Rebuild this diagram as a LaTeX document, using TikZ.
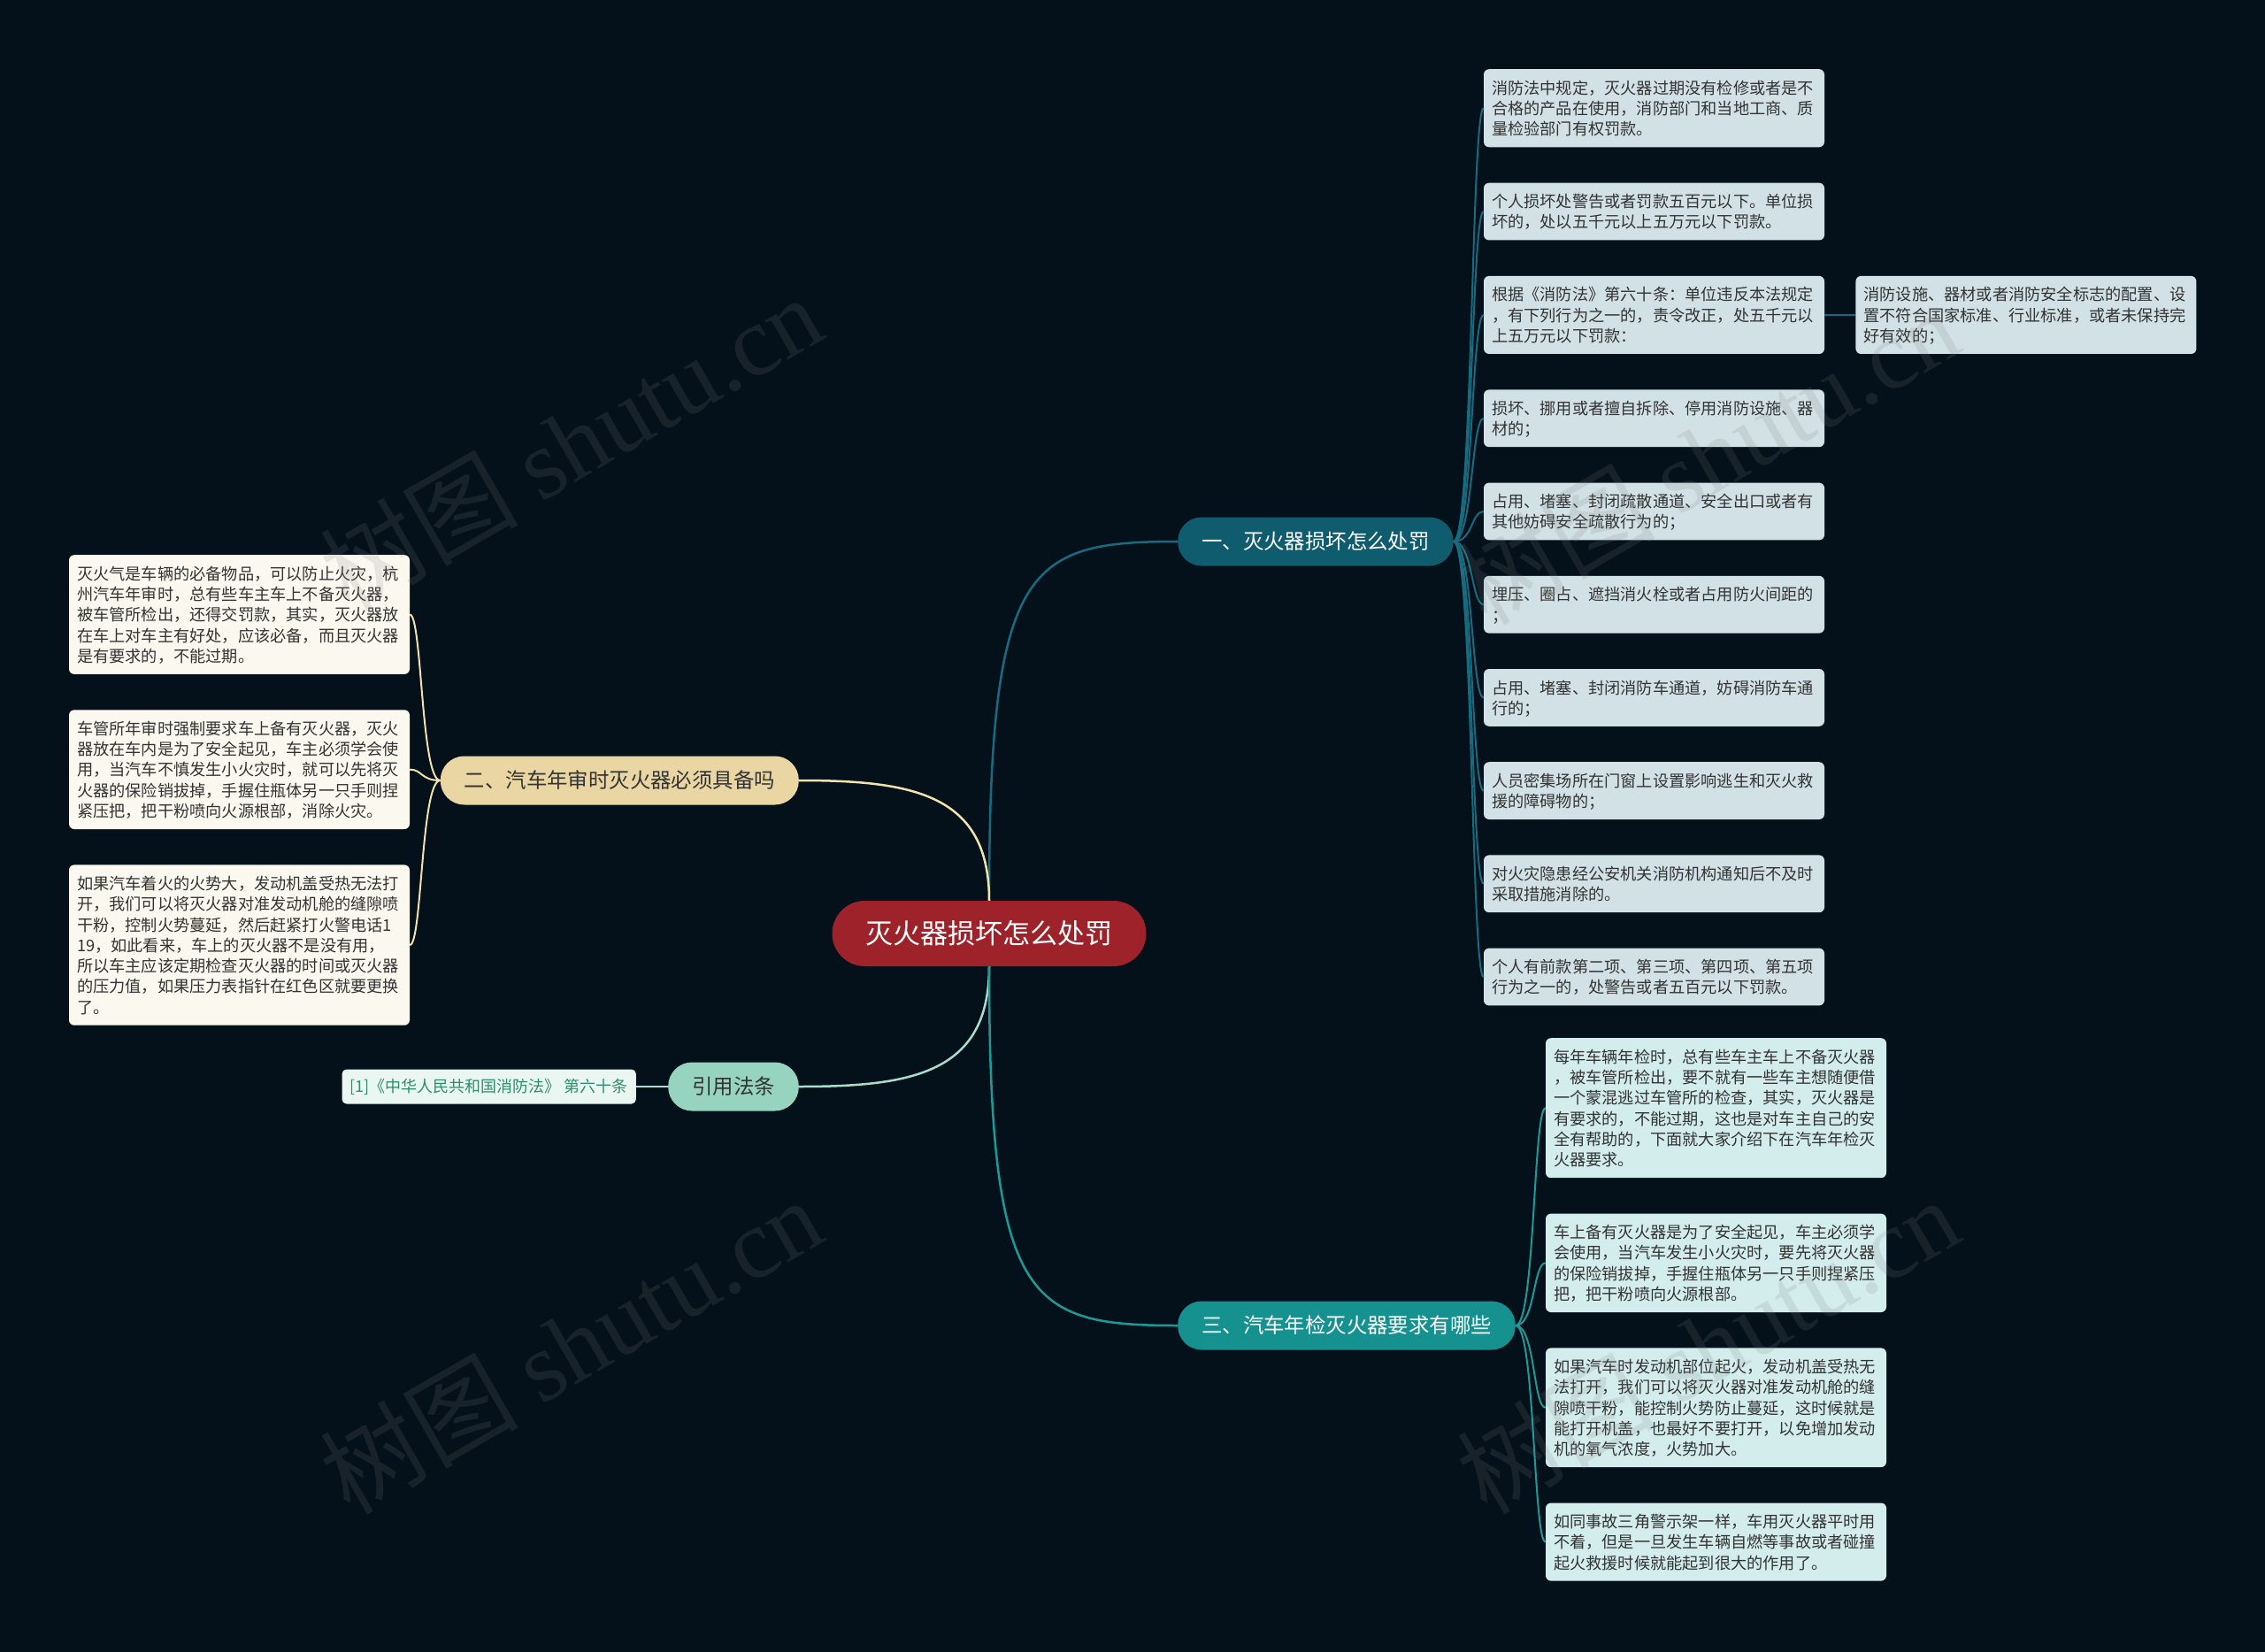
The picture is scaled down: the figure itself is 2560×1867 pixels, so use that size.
\documentclass[tikz,border=0pt]{standalone}
\usepackage{fontspec}
\setmainfont{Noto Sans CJK SC}
\newfontfamily\wmserif{Liberation Serif}
\usetikzlibrary{positioning}

\definecolor{bgdark}{HTML}{04111A}
\definecolor{rootred}{HTML}{9E2229}
\definecolor{penfill}{HTML}{0E5C6E}
\definecolor{penline}{HTML}{186B7E}
\definecolor{penleaf}{HTML}{D2E1E5}
\definecolor{needfill}{HTML}{E9D6A3}
\definecolor{needline}{HTML}{F1E2AE}
\definecolor{needleaf}{HTML}{FBF8EF}
\definecolor{reqfill}{HTML}{15918F}
\definecolor{reqline}{HTML}{1C9A98}
\definecolor{reqleaf}{HTML}{D3ECEC}
\definecolor{lawfill}{HTML}{97D4C0}
\definecolor{lawline}{HTML}{A8DDCB}
\definecolor{lawleaf}{HTML}{EAF6F2}
\definecolor{lawtext}{HTML}{2F8C6C}
\definecolor{leaftext}{HTML}{333333}

\tikzset{
  topic/.style={rectangle,rounded corners=27pt,minimum height=55pt,inner xsep=27pt,inner ysep=0pt,font=\fontsize{23.4}{28}\selectfont},
  leaf/.style={rectangle,rounded corners=6pt,text width=367pt,align=left,inner xsep=9pt,inner ysep=9.5pt,text=leaftext,
    font=\fontsize{18.2}{23.3}\selectfont,
    execute at begin node={\rule{0pt}{18.5pt}},execute at end node={\rule[-4pt]{0pt}{4pt}}},
  penleafbox/.style={leaf,fill=penleaf},
  needleafbox/.style={leaf,fill=needleaf},
  reqleafbox/.style={leaf,fill=reqleaf},
  link/.style={line width=2.5pt},
  twig/.style={line width=2pt},
  wm/.style={rotate=30,text=gray,opacity=0.16,font=\fontsize{112}{120}\selectfont},
}

\begin{document}
\begin{tikzpicture}[x=1pt,y=-1pt]
  \path[use as bounding box,fill=bgdark] (0,0) rectangle (2560,1867);

  % centre and main topics
  \node[topic,fill=rootred,text=white,rounded corners=37pt,minimum height=74pt,inner xsep=38pt,font=\fontsize{31}{36}\selectfont] (root) at (1118,1055) {灭火器损坏怎么处罚};
  \node[topic,fill=penfill,text=white,anchor=west] (pen) at (1331,612) {一、灭火器损坏怎么处罚};
  \node[topic,fill=needfill,text=leaftext,anchor=east] (need) at (903,882) {二、汽车年审时灭火器必须具备吗};
  \node[topic,fill=lawfill,text={black!80},anchor=east] (law) at (903,1228) {引用法条};
  \node[topic,fill=reqfill,text=white,anchor=west] (req) at (1331,1498) {三、汽车年检灭火器要求有哪些};

  % penalties
  \node[penleafbox,anchor=north] (pen1) at (1869.5,78) {消防法中规定，灭火器过期没有检修或者是不\\合格的产品在使用，消防部门和当地工商、质\\量检验部门有权罚款。};
  \node[penleafbox,below=40pt of pen1] (pen2) {个人损坏处警告或者罚款五百元以下。单位损\\坏的，处以五千元以上五万元以下罚款。};
  \node[penleafbox,below=40pt of pen2] (pen3) {根据《消防法》第六十条：单位违反本法规定\\，有下列行为之一的，责令改正，处五千元以\\上五万元以下罚款：};
  \node[penleafbox,below=40pt of pen3] (pen4) {损坏、挪用或者擅自拆除、停用消防设施、器\\材的；};
  \node[penleafbox,below=40pt of pen4] (pen5) {占用、堵塞、封闭疏散通道、安全出口或者有\\其他妨碍安全疏散行为的；};
  \node[penleafbox,below=40pt of pen5] (pen6) {埋压、圈占、遮挡消火栓或者占用防火间距的\\；};
  \node[penleafbox,below=40pt of pen6] (pen7) {占用、堵塞、封闭消防车通道，妨碍消防车通\\行的；};
  \node[penleafbox,below=40pt of pen7] (pen8) {人员密集场所在门窗上设置影响逃生和灭火救\\援的障碍物的；};
  \node[penleafbox,below=40pt of pen8] (pen9) {对火灾隐患经公安机关消防机构通知后不及时\\采取措施消除的。};
  \node[penleafbox,below=40pt of pen9] (pen10) {个人有前款第二项、第三项、第四项、第五项\\行为之一的，处警告或者五百元以下罚款。};
  \node[penleafbox,right=35pt of pen3] (pensub) {消防设施、器材或者消防安全标志的配置、设\\置不符合国家标准、行业标准，或者未保持完\\好有效的；};

  % annual review
  \node[needleafbox,anchor=north] (need1) at (270.5,627) {灭火气是车辆的必备物品，可以防止火灾，杭\\州汽车年审时，总有些车主车上不备灭火器，\\被车管所检出，还得交罚款，其实，灭火器放\\在车上对车主有好处，应该必备，而且灭火器\\是有要求的，不能过期。};
  \node[needleafbox,below=40pt of need1] (need2) {车管所年审时强制要求车上备有灭火器，灭火\\器放在车内是为了安全起见，车主必须学会使\\用，当汽车不慎发生小火灾时，就可以先将灭\\火器的保险销拔掉，手握住瓶体另一只手则捏\\紧压把，把干粉喷向火源根部，消除火灾。};
  \node[needleafbox,below=40pt of need2] (need3) {如果汽车着火的火势大，发动机盖受热无法打\\开，我们可以将灭火器对准发动机舱的缝隙喷\\干粉，控制火势蔓延，然后赶紧打火警电话1\\19，如此看来，车上的灭火器不是没有用，\\所以车主应该定期检查灭火器的时间或灭火器\\的压力值，如果压力表指针在红色区就要更换\\了。};

  % law reference
  \node[rectangle,rounded corners=5pt,fill=lawleaf,text=lawtext,minimum height=39pt,inner xsep=9pt,font=\fontsize{18}{20}\selectfont,left=36pt of law] (lawref) {[1]《中华人民共和国消防法》 第六十条};

  % annual check
  \node[reqleafbox,anchor=north] (req1) at (1939.5,1173) {每年车辆年检时，总有些车主车上不备灭火器\\，被车管所检出，要不就有一些车主想随便借\\一个蒙混逃过车管所的检查，其实，灭火器是\\有要求的，不能过期，这也是对车主自己的安\\全有帮助的，下面就大家介绍下在汽车年检灭\\火器要求。};
  \node[reqleafbox,below=40pt of req1] (req2) {车上备有灭火器是为了安全起见，车主必须学\\会使用，当汽车发生小火灾时，要先将灭火器\\的保险销拔掉，手握住瓶体另一只手则捏紧压\\把，把干粉喷向火源根部。};
  \node[reqleafbox,below=40pt of req2] (req3) {如果汽车时发动机部位起火，发动机盖受热无\\法打开，我们可以将灭火器对准发动机舱的缝\\隙喷干粉，能控制火势防止蔓延，这时候就是\\能打开机盖，也最好不要打开，以免增加发动\\机的氧气浓度，火势加大。};
  \node[reqleafbox,below=40pt of req3] (req4) {如同事故三角警示架一样，车用灭火器平时用\\不着，但是一旦发生车辆自燃等事故或者碰撞\\起火救援时候就能起到很大的作用了。};

  % connectors
  \draw[link,penline] (root.north) .. controls +(0,-380) and +(-170,0) .. (pen.west);
  \draw[link,needline] (root.north) .. controls +(0,-120) and +(130,0) .. (need.east);
  \draw[link,lawline] (root.south) .. controls +(0,120) and +(130,0) .. (law.east);
  \draw[link,reqline] (root.south) .. controls +(0,380) and +(-170,0) .. (req.west);
  \foreach \i in {1,...,10}
    \draw[twig,penline] (pen.east) .. controls +(22,0) and +(-14,0) .. (pen\i.west);
  \draw[twig,penline] (pen3.east) -- (pensub.west);
  \foreach \i in {1,2,3}
    \draw[twig,needline] (need.west) .. controls +(-22,0) and +(14,0) .. (need\i.east);
  \draw[twig,lawline] (law.west) -- (lawref.east);
  \foreach \i in {1,...,4}
    \draw[twig,reqline] (req.east) .. controls +(22,0) and +(-14,0) .. (req\i.west);

  % watermarks
  \node[wm] (wm1) at (645,500) {树图 {\wmserif shutu.cn}};
  \node[wm] (wm2) at (645,1520) {树图 {\wmserif shutu.cn}};
  \node[wm] (wm3) at (1930,515) {树图 {\wmserif shutu.cn}};
  \node[wm] (wm4) at (1930,1520) {树图 {\wmserif shutu.cn}};
\end{tikzpicture}
\end{document}
